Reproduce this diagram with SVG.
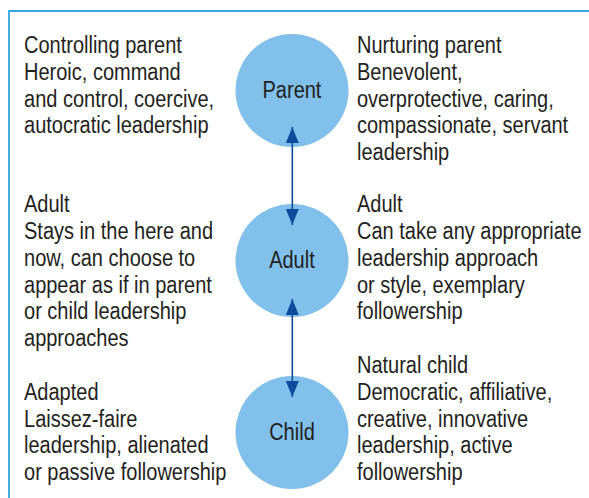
<svg xmlns="http://www.w3.org/2000/svg" width="589" height="498" viewBox="0 0 589 498">
  <style>
    .node { fill: #80c0ea; }
    .lbl { font-family: "Liberation Sans", Arial, sans-serif; font-size: 23px; fill: #231f20; }
    .mid { text-anchor: middle; }
    .link { stroke: #0d4c9c; stroke-width: 1.6; fill: none; }
    .frame { stroke: #35a5de; stroke-width: 1.8; fill: none; }
  </style>
  <defs>
    <marker id="tip" viewBox="0 0 16 13" refX="16" refY="6.5" markerWidth="16" markerHeight="13" markerUnits="userSpaceOnUse" orient="auto-start-reverse">
      <path d="M0,0 L16,6.5 L0,13 Z" fill="#0d4c9c"/>
    </marker>
  </defs>

  <rect width="589" height="498" fill="#ffffff"/>
  <!-- open frame: top and left edges -->
  <path class="frame" d="M9,498 V11 H589"/>

  <!-- ego-state nodes -->
  <g id="parent">
    <circle class="node" cx="292" cy="90.5" r="56.5"/>
    <g transform="scale(0.87,1)"><text class="lbl mid" x="335.6" y="98.3">Parent</text></g>
  </g>
  <g id="adult">
    <circle class="node" cx="292" cy="260.5" r="56.5"/>
    <g transform="scale(0.87,1)"><text class="lbl mid" x="335.6" y="268.5">Adult</text></g>
  </g>
  <g id="child">
    <circle class="node" cx="292" cy="432.5" r="56.5"/>
    <g transform="scale(0.87,1)"><text class="lbl mid" x="335.6" y="440.5">Child</text></g>
  </g>

  <!-- connectors, drawn over the circles so the heads show -->
  <g id="connectors">
    <line class="link" x1="292.3" y1="127" x2="292.3" y2="225" marker-start="url(#tip)" marker-end="url(#tip)"/>
    <line class="link" x1="292.3" y1="299" x2="292.3" y2="397" marker-start="url(#tip)" marker-end="url(#tip)"/>
  </g>

  <!-- descriptions (condensed text) -->
  <g id="controlling-parent" transform="scale(0.87,1)">
    <text class="lbl" x="27.6" y="53.3">Controlling parent</text>
    <text class="lbl" x="27.6" y="80">Heroic, command</text>
    <text class="lbl" x="27.6" y="106.7">and control, coercive,</text>
    <text class="lbl" x="27.6" y="133.3">autocratic leadership</text>
  </g>
  <g id="nurturing-parent" transform="scale(0.87,1)">
    <text class="lbl" x="410.3" y="53.3">Nurturing parent</text>
    <text class="lbl" x="410.3" y="80">Benevolent,</text>
    <text class="lbl" x="410.3" y="106.7">overprotective, caring,</text>
    <text class="lbl" x="410.3" y="133.3">compassionate, servant</text>
    <text class="lbl" x="410.3" y="160">leadership</text>
  </g>
  <g id="adult-left" transform="scale(0.87,1)">
    <text class="lbl" x="27.6" y="212.5">Adult</text>
    <text class="lbl" x="27.6" y="239.2">Stays in the here and</text>
    <text class="lbl" x="27.6" y="265.9">now, can choose to</text>
    <text class="lbl" x="27.6" y="292.6">appear as if in parent</text>
    <text class="lbl" x="27.6" y="319.3">or child leadership</text>
    <text class="lbl" x="27.6" y="346">approaches</text>
  </g>
  <g id="adult-right" transform="scale(0.87,1)">
    <text class="lbl" x="410.3" y="212.5">Adult</text>
    <text class="lbl" x="410.3" y="239.2">Can take any appropriate</text>
    <text class="lbl" x="410.3" y="265.9">leadership approach</text>
    <text class="lbl" x="410.3" y="292.6">or style, exemplary</text>
    <text class="lbl" x="410.3" y="319.3">followership</text>
  </g>
  <g id="adapted-child" transform="scale(0.87,1)">
    <text class="lbl" x="27.6" y="400">Adapted</text>
    <text class="lbl" x="27.6" y="426.7">Laissez-faire</text>
    <text class="lbl" x="27.6" y="453.3">leadership, alienated</text>
    <text class="lbl" x="27.6" y="480">or passive followership</text>
  </g>
  <g id="natural-child" transform="scale(0.87,1)">
    <text class="lbl" x="410.3" y="373.3">Natural child</text>
    <text class="lbl" x="410.3" y="400">Democratic, affiliative,</text>
    <text class="lbl" x="410.3" y="426.7">creative, innovative</text>
    <text class="lbl" x="410.3" y="453.3">leadership, active</text>
    <text class="lbl" x="410.3" y="480">followership</text>
  </g>
</svg>
